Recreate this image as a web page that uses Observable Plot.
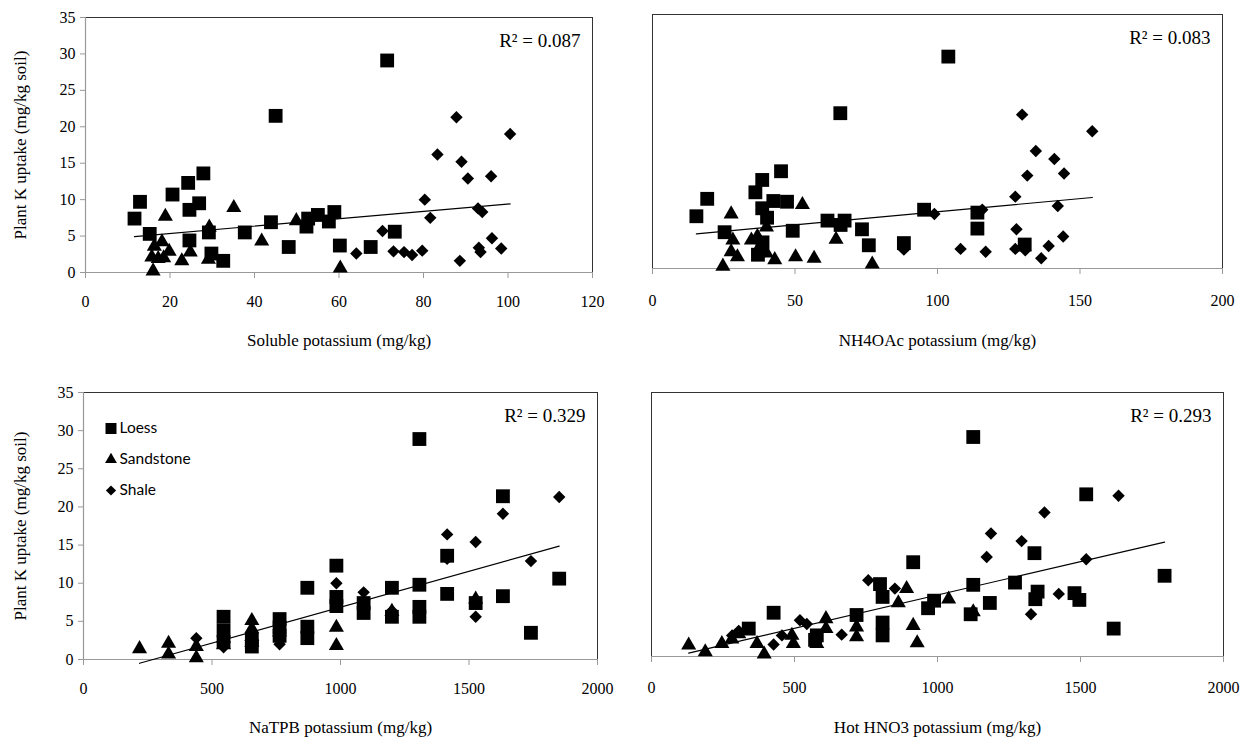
<!DOCTYPE html>
<html><head><meta charset="utf-8">
<script src="https://cdn.jsdelivr.net/npm/d3@7"></script>
<script src="https://cdn.jsdelivr.net/npm/@observablehq/plot@0.6"></script>
<style>
body{margin:0;background:#fff;}
#wrap{position:relative;width:1252px;height:741px;overflow:hidden;background:#fff;}
#wrap > div{position:absolute;}
</style></head><body><div id="wrap"></div>
<script>
// ---- data ----
const types = ["Loess", "Sandstone", "Shale"];
const yTitle = "Plant K uptake (mg/kg soil)";
const xTitles = ["Soluble potassium (mg/kg)", "NH4OAc potassium (mg/kg)", "NaTPB potassium (mg/kg)", "Hot HNO3 potassium (mg/kg)"];
const r2Labels = ["R² = 0.087", "R² = 0.083", "R² = 0.329", "R² = 0.293"];
const yTicks = [0, 5, 10, 15, 20, 25, 30, 35];
const xTicksSoluble = [0, 20, 40, 60, 80, 100, 120];
const xTicksNH4 = [0, 50, 100, 150, 200];
const xTicksNaTPB = [0, 500, 1000, 1500, 2000];
const xTicksHNO3 = [0, 500, 1000, 1500, 2000];

// Soluble K
const solLoess = [[11.6,7.4],[12.9,9.7],[15.2,5.3],[20.6,10.7],[24.3,12.3],[27.9,13.6],[24.6,8.6],[26.9,9.5],[24.6,4.4],[29.2,5.5],[29.8,2.6],[32.6,1.6],[37.7,5.5],[43.9,6.9],[45.0,21.5],[48.1,3.5],[52.3,6.3],[52.7,7.4],[55.0,7.9],[57.6,7.0],[58.9,8.3],[60.2,3.7],[67.5,3.5],[71.4,29.1],[73.2,5.6]];
const solSand = [[18.9,7.7],[35.1,8.9],[16.0,0.2],[16.3,3.6],[18.1,4.2],[15.7,2.1],[18.5,2.0],[19.8,2.9],[17.2,1.9],[22.8,1.6],[24.8,2.8],[29.3,6.2],[29.1,1.8],[41.7,4.3],[49.9,7.1],[60.3,0.6]];
const solShale = [[64.1,2.6],[70.3,5.7],[72.9,2.9],[75.4,2.8],[77.3,2.4],[79.7,3.0],[80.3,10.0],[81.6,7.5],[83.3,16.2],[87.8,21.3],[88.6,1.6],[89.0,15.2],[90.5,12.9],[92.9,8.8],[93.9,8.3],[93.1,3.4],[93.5,2.8],[96.0,13.2],[96.2,4.7],[98.4,3.3],[100.5,19.0]];

// NH4OAc K
const nhLoess = [[15.4,7.2],[19.2,9.6],[25.3,5.0],[36.1,10.5],[38.5,12.2],[45.1,13.4],[42.4,9.3],[47.2,9.2],[38.5,8.3],[40.2,7.0],[49.2,5.2],[61.4,6.6],[65.9,21.4],[67.4,6.6],[66.0,6.0],[73.5,5.4],[75.9,3.2],[88.2,3.5],[95.3,8.1],[103.8,29.2],[114.0,7.7],[114.0,5.5],[130.6,3.3],[37.0,1.9],[38.6,3.6]];
const nhSand = [[27.6,7.5],[52.6,8.8],[24.7,0.3],[28.2,3.9],[27.6,2.3],[29.8,1.6],[34.7,3.9],[36.8,4.4],[38.2,3.4],[40.0,5.7],[40.0,2.1],[42.9,1.2],[50.2,1.6],[56.7,1.4],[64.4,4.0],[77.1,0.6]];
const nhShale = [[98.9,7.5],[88.2,2.6],[108.1,2.7],[115.7,8.1],[116.9,2.3],[127.3,9.9],[127.7,5.4],[127.3,2.7],[129.7,21.2],[130.8,2.5],[131.5,12.8],[134.5,16.2],[136.4,1.4],[139.0,3.1],[141.0,15.1],[142.2,8.6],[144.1,4.4],[144.4,13.1],[154.3,18.9]];

// NaTPB K
const naLoess = [[545,5.6],[545,3.8],[545,2.3],[655,1.7],[655,2.6],[763,5.3],[763,4.2],[763,3.1],[871,9.4],[871,4.3],[871,2.8],[984,12.3],[984,8.2],[984,7.0],[1090,7.4],[1090,6.1],[1200,9.4],[1200,5.6],[1307,28.9],[1307,9.8],[1307,6.9],[1307,5.6],[1415,13.6],[1415,8.6],[1526,7.4],[1632,21.4],[1632,8.3],[1741,3.5],[1851,10.6]];
const naSand = [[218,1.4],[331,2.1],[331,0.7],[439,1.7],[439,0.2],[545,2.8],[545,1.9],[655,5.1],[655,4.0],[655,3.0],[655,2.2],[763,3.6],[984,4.2],[984,1.8],[1200,6.3],[1526,7.9]];
const naShale = [[439,2.8],[545,2.4],[545,1.6],[655,3.4],[655,2.9],[655,2.4],[763,2.0],[763,2.8],[984,10.0],[1090,8.8],[1200,6.4],[1415,16.4],[1415,13.2],[1526,15.4],[1526,5.6],[1632,19.1],[1741,12.9],[1851,21.3]];

// Hot HNO3 K
const hnLoess = [[340,3.7],[427,5.8],[572,2.2],[578,2.8],[717,5.5],[799,9.6],[808,7.9],[808,4.5],[808,2.8],[915,12.5],[967,6.4],[988,7.4],[1125,29.1],[1125,9.5],[1116,5.6],[1183,7.1],[1271,9.8],[1339,13.7],[1350,8.6],[1342,7.6],[1479,8.4],[1496,7.5],[1520,21.5],[1616,3.7],[1794,10.7]];
const hnSand = [[130,1.5],[188,0.6],[246,1.7],[281,2.3],[305,3.0],[369,1.7],[394,0.3],[491,2.8],[496,1.7],[578,1.7],[610,5.0],[610,3.7],[717,3.9],[717,2.6],[863,7.1],[892,9.0],[915,4.1],[929,1.8],[1039,7.6],[1125,5.9]];
const hnShale = [[282,2.8],[305,3.4],[427,1.6],[456,2.8],[519,4.8],[543,4.3],[665,2.9],[758,10.1],[851,9.0],[1172,13.2],[1187,16.3],[1294,15.3],[1327,5.6],[1374,19.1],[1424,8.3],[1520,12.9],[1633,21.3]];

// ---- drawing ----
const serif = "'Liberation Serif', 'Times New Roman', serif";
const sans = "Lato, 'Open Sans', sans-serif";

function panel(cfg) {
  const rows = [
    ...cfg.loess.map(([x, y]) => ({x, y, type: types[0]})),
    ...cfg.sand.map(([x, y]) => ({x, y, type: types[1]})),
    ...cfg.shale.map(([x, y]) => ({x, y, type: types[2]}))
  ];
  const marks = [
    Plot.frame({stroke: "#333", strokeWidth: 1}),
    Plot.ruleY([0], {stroke: "#999", strokeWidth: 1.2}),
    Plot.axisX({ticks: cfg.xTicks, tickFormat: d => String(d), tickSize: 6, tickPadding: cfg.tickPad, stroke: "#999", fill: "#000", label: null, fontSize: 16}),
    Plot.dot(rows.filter(d => d.type === types[0]), {x: "x", y: "y", symbol: "square", r: 7.8, fill: "#000"}),
    Plot.dot(rows.filter(d => d.type === types[1]), {x: "x", y: "y", symbol: "triangle", r: 5.6, fill: "#000"}),
    Plot.dot(rows.filter(d => d.type === types[2]), {x: "x", y: "y", symbol: "diamond2", r: 5.6, fill: "#000"}),
    Plot.linearRegressionY(rows, {x: "x", y: "y", stroke: "#000", strokeWidth: 1.2, ci: 0}),
    Plot.text([cfg.r2], {text: d => d, frameAnchor: "top-right", dx: -12, dy: 23, textAnchor: "end", lineAnchor: "middle", fontSize: 19, fontFamily: serif}),
    Plot.text([cfg.xTitle], {text: d => d, frameAnchor: "bottom", dy: cfg.titleDy, textAnchor: "middle", lineAnchor: "middle", fontSize: 17, fontFamily: serif})
  ];
  if (cfg.showY) {
    marks.push(
      Plot.ruleX([0], {stroke: "#999", strokeWidth: 1.2}),
      Plot.axisY({ticks: yTicks, tickSize: 5, tickPadding: 5, stroke: "#999", fill: "#000", label: null, fontSize: 16}),
      Plot.text([yTitle], {text: d => d, frameAnchor: "left", dx: cfg.yTitleDx, rotate: -90, textAnchor: "middle", lineAnchor: "middle", fontSize: 17, fontFamily: serif})
    );
  }
  if (cfg.legend) {
    const syms = ["square", "triangle", "diamond2"];
    const rs = [6.2, 4.4, 4.6];
    types.forEach((t, i) => {
      marks.push(
        Plot.dot([t], {frameAnchor: "top-left", dx: 27.5, dy: 36 + i * 31, symbol: syms[i], r: rs[i], fill: "#000"}),
        Plot.text([t], {text: d => d, frameAnchor: "top-left", dx: 36, dy: 36 + i * 31, textAnchor: "start", lineAnchor: "middle", fontSize: 15.5, fontFamily: sans})
      );
    });
  }
  const svg = Plot.plot({
    width: cfg.width, height: cfg.height,
    marginLeft: cfg.m[0], marginRight: cfg.m[1], marginTop: cfg.m[2], marginBottom: cfg.m[3],
    x: {domain: cfg.xDomain},
    y: {domain: [0, 35], ...(cfg.showY ? {} : {axis: null})},
    style: {fontFamily: serif, fontSize: "16px", background: "transparent", overflow: "visible", color: "#000"},
    marks
  });
  const div = document.createElement("div");
  div.style.left = cfg.left + "px";
  div.style.top = cfg.top + "px";
  div.appendChild(svg);
  document.getElementById("wrap").appendChild(div);
}

panel({left: 0, top: 0, width: 626, height: 350, m: [85, 34, 17, 78], xDomain: [0, 120], xTicks: xTicksSoluble,
  loess: solLoess, sand: solSand, shale: solShale, r2: r2Labels[0], xTitle: xTitles[0], showY: true, yTitleDx: -65, titleDy: 68, tickPad: 17});
panel({left: 626, top: 0, width: 626, height: 350, m: [26, 30, 14, 82], xDomain: [0, 200], xTicks: xTicksNH4,
  loess: nhLoess, sand: nhSand, shale: nhShale, r2: r2Labels[1], xTitle: xTitles[1], showY: false, titleDy: 72, tickPad: 20});
panel({left: 0, top: 370, width: 626, height: 371, m: [83, 29, 22, 82], xDomain: [0, 2000], xTicks: xTicksNaTPB,
  loess: naLoess, sand: naSand, shale: naShale, r2: r2Labels[2], xTitle: xTitles[2], showY: true, yTitleDx: -63, titleDy: 68, tickPad: 17, legend: true});
panel({left: 626, top: 370, width: 626, height: 371, m: [25, 29, 22, 85], xDomain: [0, 2000], xTicks: xTicksHNO3,
  loess: hnLoess, sand: hnSand, shale: hnShale, r2: r2Labels[3], xTitle: xTitles[3], showY: false, titleDy: 71, tickPad: 19});
</script>
</body></html>
